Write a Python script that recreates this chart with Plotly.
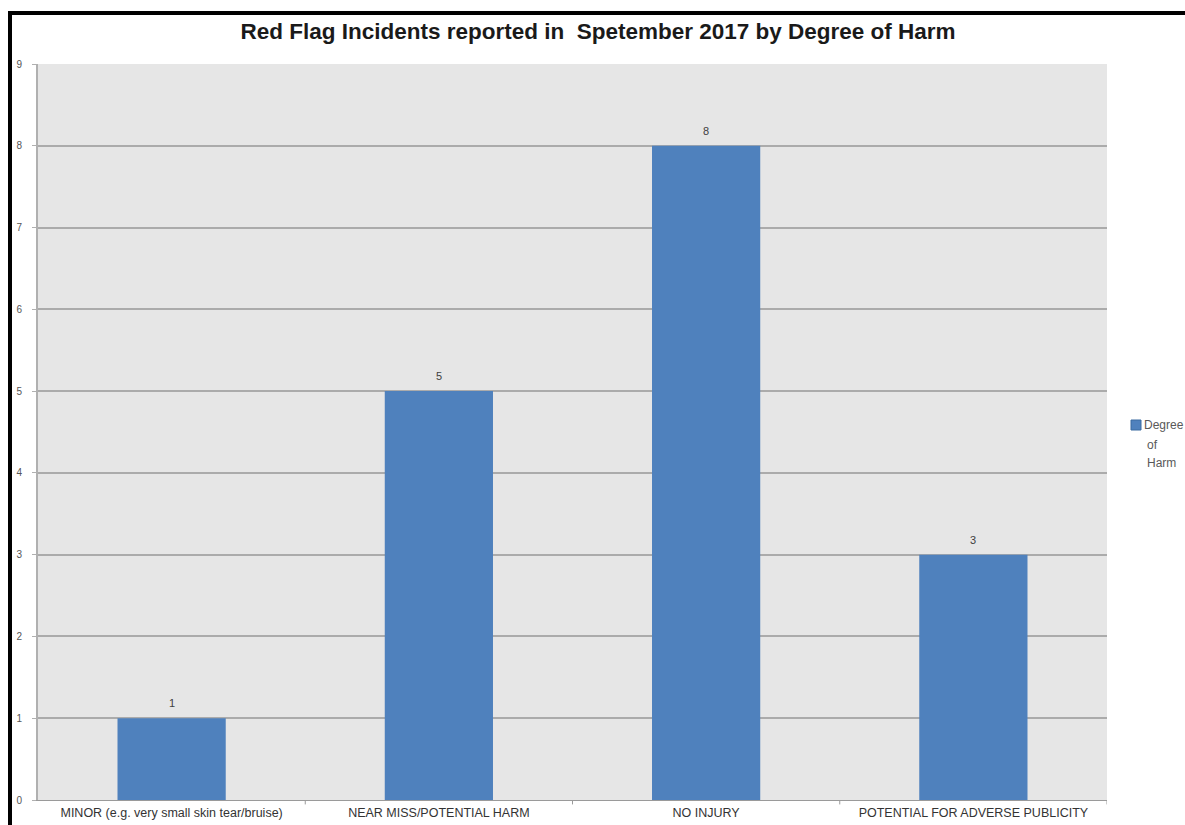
import plotly.graph_objects as go

categories = ["MINOR (e.g. very small skin tear/bruise)", "NEAR MISS/POTENTIAL HARM",
              "NO INJURY", "POTENTIAL FOR ADVERSE PUBLICITY"]
values = [1, 5, 8, 3]
series_lines = ["Degree", "of", "Harm"]
y_ticks = list(range(0, 10))

W, H = 1185, 825
L, R, T, B = 38, 1107, 64, 800
BAR_COLOR = "#4f81bd"
FONT = "Liberation Sans, Arial"

def px(x):
    return (x - L) / (R - L)

def py(y):
    return (B - y) / (B - T)

fig = go.Figure()
fig.add_trace(go.Bar(
    x=categories, y=values, name=" ".join(series_lines),
    marker=dict(color=BAR_COLOR, line=dict(width=0)),
    width=0.405, showlegend=False,
))

# data labels above bars
for c, v in zip(categories, values):
    fig.add_annotation(x=c, y=v, text=str(v), showarrow=False, yshift=15,
                       yanchor="middle", xanchor="center",
                       font=dict(family=FONT, size=11, color="#404040"))

fig.update_layout(
    width=W, height=H,
    margin=dict(l=L, r=W - R, t=T, b=H - B, pad=0, autoexpand=False),
    paper_bgcolor="white",
    plot_bgcolor="#e6e6e6",
    title=dict(text="<b>Red Flag Incidents reported in  Spetember 2017 by Degree of Harm</b>",
               x=px(598), xref="paper", xanchor="center",
               y=1 - 31 / H, yanchor="middle",
               font=dict(family=FONT, size=22.5, color="#1a1a1a")),
    xaxis=dict(
        showgrid=False, showline=True, linecolor="#9a9a9a", linewidth=1,
        ticks="", tickfont=dict(family=FONT, size=12.5, color="#333333"),
        range=[-0.5, 3.5], ticklabelstandoff=1,
    ),
    yaxis=dict(
        range=[0, 9], tickvals=y_ticks, showgrid=True, gridcolor="#ababab", gridwidth=2,
        showline=True, linecolor="#b0b0b0", linewidth=2, zeroline=False,
        ticks="outside", ticklen=4, tickcolor="#b0b0b0",
        tickfont=dict(family=FONT, size=10, color="#555555"),
        ticklabelstandoff=8,
    ),
    showlegend=False,
    bargap=0.6,
)

# category separator ticks on x-axis
for xv in [0.5, 1.5, 2.5, 3.5]:
    fig.add_shape(type="line", xref="x", yref="paper", x0=xv, x1=xv, y0=0, y1=-0.006,
                  line=dict(color="#9a9a9a", width=1))

# legend (drawn manually to match the original placement)
fig.add_shape(type="rect", xref="paper", yref="paper",
              x0=px(1131), x1=px(1141), y0=py(430), y1=py(420),
              fillcolor=BAR_COLOR, line=dict(color="#3a6aa0", width=1))
for i, (line, yy) in enumerate(zip(series_lines, [425, 445, 463])):
    fig.add_annotation(xref="paper", yref="paper", x=px(1142 if i == 0 else 1145), y=py(yy),
                       text=line, showarrow=False, xanchor="left", yanchor="middle",
                       font=dict(family=FONT, size=12, color="#595959"))

# black frame (top and left edges of screenshot)
fig.add_shape(type="line", xref="paper", yref="paper",
              x0=px(8), x1=px(1190), y0=py(13), y1=py(13),
              line=dict(color="black", width=4))
fig.add_shape(type="line", xref="paper", yref="paper",
              x0=px(10), x1=px(10), y0=py(11), y1=py(830),
              line=dict(color="black", width=4))

fig.write_html("out.html")
